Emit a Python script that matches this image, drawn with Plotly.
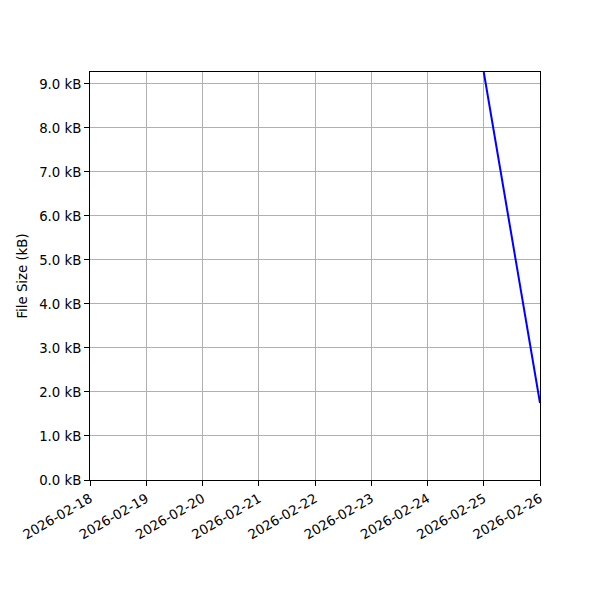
import plotly.graph_objects as go

# data
dates = ["2026-02-25", "2026-02-26"]
sizes_kb = [9.27, 1.75]

x_range = ["2026-02-18", "2026-02-26"]
y_range = [0, 9.27]

fig = go.Figure()
fig.add_trace(go.Scatter(
    x=dates, y=sizes_kb, mode="lines",
    line=dict(color="blue", width=2),
    showlegend=False,
))

axis_style = dict(
    showline=True, linecolor="black", linewidth=1, mirror=True,
    ticks="outside", ticklen=5, tickcolor="black",
    showgrid=True, gridcolor="#b0b0b0", gridwidth=1,
    zeroline=False,
    tickfont=dict(family="DejaVu Sans", size=13.3, color="black"),
)

fig.update_xaxes(
    range=x_range, type="date", dtick=86400000, tick0="2026-02-18",
    tickformat="%Y-%m-%d", tickangle=-30, **axis_style,
)
fig.update_yaxes(
    range=y_range, dtick=1, tick0=0, tickformat=".1f", ticksuffix=" kB",
    title=dict(text="File Size (kB)", font=dict(family="DejaVu Sans", size=13.3, color="black"), standoff=8),
    **axis_style,
)

# page body adds ~8px offset, so margins are shifted to compensate
fig.update_layout(
    width=600, height=600,
    margin=dict(l=82, r=68, t=64, b=128),
    plot_bgcolor="white", paper_bgcolor="white",
    font=dict(family="DejaVu Sans", size=13.3, color="black"),
)

fig.write_html("out.html")
